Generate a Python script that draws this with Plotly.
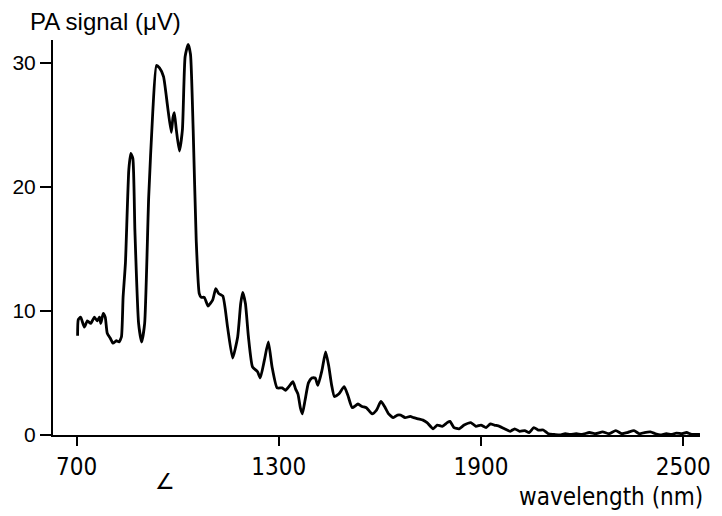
import plotly.graph_objects as go

# Wavelength (nm) and photoacoustic signal (µV)
wavelength = [
    703, 705, 712, 723, 732, 742, 753, 761, 768, 772, 779, 785, 791, 800, 808, 818, 826, 833,
    838, 845, 855, 861, 867, 873, 884, 893, 902, 914, 926, 937, 946, 958, 970, 981, 986, 990,
    996, 1005, 1014, 1022, 1031, 1038, 1046, 1055, 1064, 1070, 1079, 1090, 1104, 1113, 1122,
    1134, 1148, 1163, 1178, 1187, 1193, 1201, 1210, 1222, 1237, 1245, 1257, 1269, 1280, 1295,
    1310, 1320, 1330, 1342, 1350, 1357, 1364, 1370, 1378, 1388, 1398, 1408, 1416, 1428, 1439,
    1448, 1457, 1465, 1478, 1494, 1505, 1518, 1535, 1547, 1560, 1577, 1590, 1603, 1614, 1626,
    1640, 1652, 1662, 1675, 1690, 1700, 1714, 1728, 1740, 1758, 1770, 1785, 1800, 1808, 1820,
    1835, 1850, 1870, 1885, 1900, 1915, 1928, 1940, 1955, 1970, 1987, 2000, 2015, 2030, 2043,
    2057, 2070, 2085, 2100, 2117, 2134, 2150, 2165, 2183, 2200, 2222, 2240, 2261, 2280, 2300,
    2318, 2335, 2354, 2370, 2385, 2403, 2418, 2432, 2450, 2465, 2480, 2497, 2510, 2525, 2550,
]
signal = [
    8.0, 9.3, 9.5, 8.7, 9.2, 9.0, 9.5, 9.2, 9.5, 9.0, 9.8, 9.5, 8.2, 7.8, 7.4, 7.6, 7.5, 7.9,
    11.1, 13.9, 21.4, 22.7, 22.3, 16.5, 9.0, 7.5, 9.0, 19.2, 26.0, 29.8, 29.6, 28.9, 26.5, 24.4, 25.6, 26.0,
    24.6, 22.9, 24.6, 30.5, 31.5, 30.7, 24.6, 15.7, 11.4, 11.1, 11.1, 10.4, 10.9, 11.8, 11.4,
    11.2, 8.7, 6.2, 7.9, 10.6, 11.5, 10.6, 7.9, 5.5, 5.1, 4.6, 6.0, 7.5, 5.5, 3.8,
    3.8, 3.6, 3.9, 4.3, 3.7, 3.3, 2.2, 1.7, 2.8, 4.2, 4.6, 4.6, 4.0, 5.2, 6.7,
    5.6, 4.0, 3.1, 3.3, 3.9, 3.2, 2.2, 2.5, 2.3, 2.2, 1.7, 2.0, 2.7, 2.3, 1.7,
    1.4, 1.6, 1.6, 1.4, 1.5, 1.4, 1.3, 1.2, 1.0, 0.5, 0.8, 0.7, 1.0, 1.1, 0.6,
    0.5, 0.8, 1.0, 0.7, 0.8, 0.6, 0.9, 0.8, 0.7, 0.5, 0.3, 0.5, 0.3, 0.35, 0.2,
    0.6, 0.4, 0.4, 0.1, 0.05, 0.0, 0.1, 0.05, 0.1, 0.05, 0.2, 0.1, 0.25, 0.1, 0.35,
    0.1, 0.2, 0.35, 0.1, 0.2, 0.25, 0.1, 0.0, 0.1, 0.05, 0.15, 0.1, 0.2, 0.05, 0.05,
]

x_ticks = [700, 1300, 1900, 2500]
y_ticks = [0, 10, 20, 30]

fig = go.Figure()
fig.add_trace(go.Scatter(
    x=wavelength, y=signal, mode="lines",
    line=dict(color="black", width=2.8, shape="spline", smoothing=0.5),
    hoverinfo="skip", showlegend=False,
))

narrow = "Liberation Sans Narrow, DejaVu Sans Condensed, Arial Narrow, Liberation Sans, sans-serif"
tick_font_x = dict(family=narrow, size=24, color="black")
tick_font_y = dict(family="Liberation Sans, Arial, sans-serif", size=21, color="black")

fig.update_layout(
    width=722, height=516,
    margin=dict(l=50, r=17, t=40, b=81),
    paper_bgcolor="white", plot_bgcolor="white",
    xaxis=dict(
        range=[630, 2550], tickvals=x_ticks, ticktext=[str(v) for v in x_ticks],
        ticks="outside", ticklen=9, tickwidth=1.5, tickcolor="black",
        showline=True, linecolor="black", linewidth=2,
        showgrid=False, zeroline=False, tickfont=tick_font_x,
    ),
    yaxis=dict(
        range=[0, 31.85], tickvals=y_ticks, ticktext=[str(v) for v in y_ticks],
        ticks="outside", ticklen=11, tickwidth=1.5, tickcolor="black",
        showline=True, linecolor="black", linewidth=2,
        showgrid=False, zeroline=False, tickfont=tick_font_y,
    ),
    annotations=[
        dict(text="PA signal (μV)", xref="paper", yref="paper", x=-0.038, y=1.046,
             xanchor="left", yanchor="middle", showarrow=False,
             font=dict(family="Liberation Sans, Arial, sans-serif", size=24, color="black")),
        dict(text="wavelength (nm)", xref="paper", yref="paper", x=1.0076, y=-0.157,
             xanchor="right", yanchor="middle", showarrow=False,
             font=dict(family=narrow, size=24, color="black")),
        dict(text="∠", xref="paper", yref="paper", x=(163 - 50) / 655, y=(435 - 481) / 395,
             xanchor="center", yanchor="middle", showarrow=False,
             font=dict(family="DejaVu Sans, sans-serif", size=22, color="black")),
    ],
)

fig.write_html("out.html")
